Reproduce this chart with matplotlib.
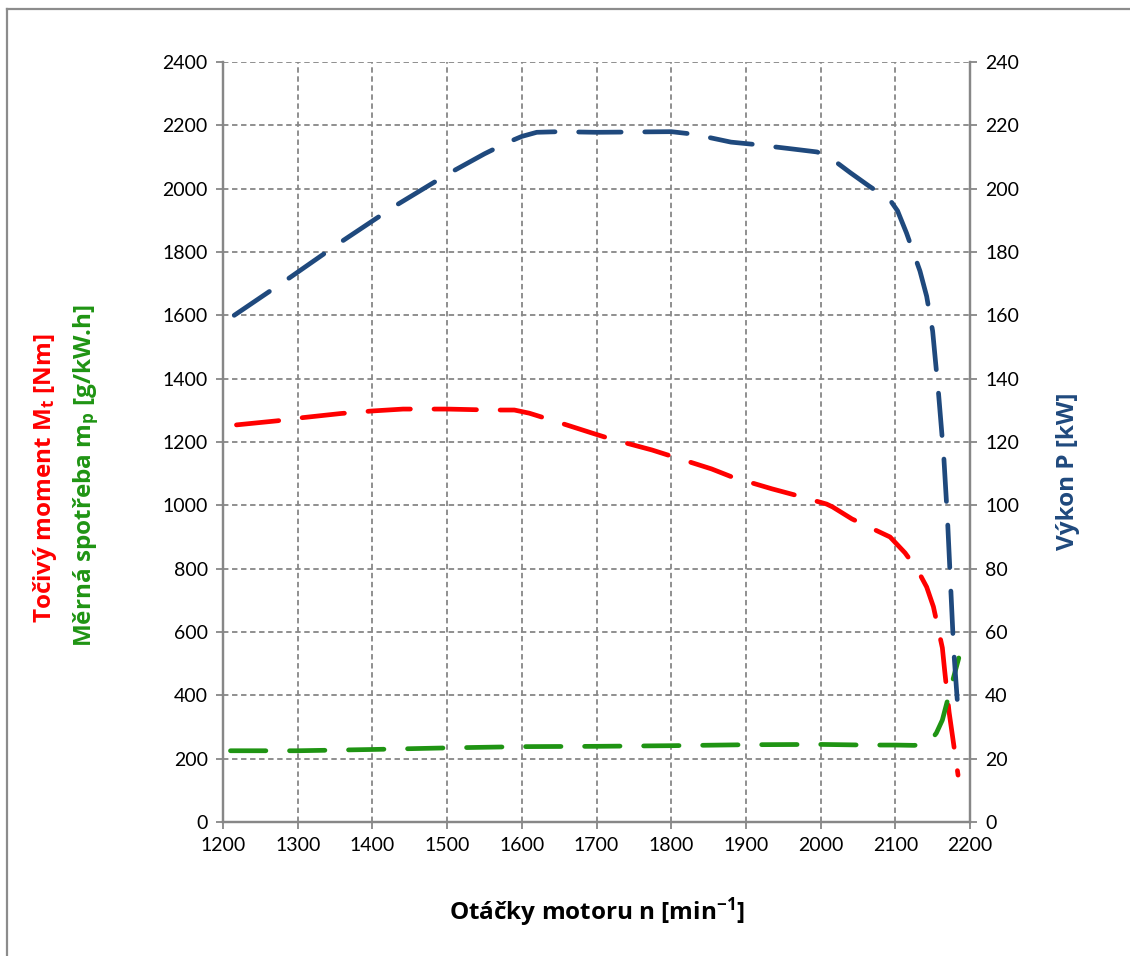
import matplotlib
matplotlib.use("Agg")
import matplotlib.pyplot as plt
from matplotlib.lines import Line2D

plt.rcParams['font.family'] = ['Lato', 'DejaVu Sans']
plt.rcParams['mathtext.fontset'] = 'custom'
plt.rcParams['mathtext.rm'] = 'Open Sans:bold'
plt.rcParams['mathtext.it'] = 'Open Sans:bold'
plt.rcParams['mathtext.bf'] = 'Open Sans:bold'

# Vykon P [kW] (right axis)
n_power = [1215, 1290, 1360, 1430, 1500, 1550, 1580, 1600, 1620, 1650, 1700, 1800,
           1830, 1880, 1910, 1960, 1995, 2010, 2040, 2065, 2093, 2103, 2115, 2133,
           2142, 2150, 2158, 2165, 2170, 2174, 2178, 2184]
power = [160, 172, 183.5, 194.5, 204.5, 211, 214.5, 216.5, 217.8, 218, 217.8, 218,
         217.2, 214.7, 214, 212.6, 211.6, 210.3, 205, 200.8, 196.4, 193, 186, 174,
         166, 155, 135, 115, 95, 75, 55, 35]

# Tocivy moment Mt [Nm]
n_torque = [1218, 1273, 1303, 1358, 1400, 1441, 1500, 1557, 1590, 1610, 1640, 1693,
            1720, 1774, 1802, 1854, 1882, 1935, 1965, 2008, 2016, 2042, 2093, 2113,
            2130, 2142, 2151, 2163, 2166, 2172, 2176, 2184]
torque = [1254, 1267, 1276, 1290, 1298, 1304, 1304, 1301, 1301, 1291, 1269, 1229,
          1209, 1175, 1154, 1115, 1089, 1052, 1033, 1004, 995, 957, 900, 850,
          795, 742, 680, 550, 480, 347, 281, 148]

# Merna spotreba mp [g/kW.h]
n_fuel = [1210, 1300, 1400, 1500, 1600, 1700, 1800, 1900, 2000, 2060, 2100, 2125,
          2135, 2142, 2150, 2155, 2163, 2170, 2177, 2185]
fuel = [225, 225, 229, 234, 238, 239, 241, 244, 245, 243, 243, 242,
        244, 249, 265, 281, 322, 385, 448, 518]

x_ticks = list(range(1200, 2201, 100))
left_ticks = list(range(0, 2401, 200))
right_ticks = list(range(0, 241, 20))

red = '#FF0000'
green = '#1F9413'
blue = '#1F497D'
grid_c = '#878787'
label_font = ['Open Sans', 'DejaVu Sans']
label_size = 17.5

fig = plt.figure(figsize=(11.3, 9.56), dpi=100)
ax = fig.add_axes([223 / 1130, 1 - 822 / 956, 747 / 1130, 760 / 956])
ax2 = ax.twinx()

lw = 3.4
ax.plot(n_torque, torque, color=red, lw=lw, dashes=(9, 5), dash_capstyle='round',
        zorder=3)
ax.plot(n_fuel, fuel, color=green, lw=lw, dashes=(7.5, 5), dash_capstyle='round',
        zorder=4)
ax2.plot(n_power, power, color=blue, lw=lw, dashes=(9, 5), dash_capstyle='round',
         zorder=3)

ax.set_xlim(1200, 2200)
ax.set_ylim(0, 2400)
ax2.set_ylim(0, 240)
ax.set_xticks(x_ticks)
ax.set_yticks(left_ticks)
ax2.set_yticks(right_ticks)

ax.grid(True, color=grid_c, linestyle=(0, (3, 2)), linewidth=1.3)
ax.set_axisbelow(True)

for a in (ax, ax2):
    a.spines['top'].set_visible(False)
    for s in ('left', 'right', 'bottom'):
        a.spines[s].set_color(grid_c)
        a.spines[s].set_linewidth(1.6)
    a.tick_params(labelsize=14, colors='black', length=5, width=1.3,
                  color=grid_c, pad=6)

ax.set_xlabel('Otáčky motoru n [min$^{-1}$]', fontsize=label_size, fontweight='bold',
              family=label_font, labelpad=30)

fig.text(45 / 1130, 1 - 478 / 956, 'Točivý moment M$_{t}$ [Nm]', color=red,
         rotation=90, ha='center', va='center', fontsize=label_size,
         fontweight='bold', family=label_font)
fig.text(86 / 1130, 1 - 476 / 956, 'Měrná spotřeba m$_{p}$ [g/kW.h]', color=green,
         rotation=90, ha='center', va='center', fontsize=label_size,
         fontweight='bold', family=label_font)
fig.text(1068 / 1130, 1 - 471 / 956, 'Výkon P [kW]', color=blue,
         rotation=90, ha='center', va='center', fontsize=label_size,
         fontweight='bold', family=label_font)

# outer chart border
fig.add_artist(Line2D([7 / 1130, 7 / 1130], [0, 1 - 9 / 956], color='#8c8c8c',
                      lw=1.6, transform=fig.transFigure))
fig.add_artist(Line2D([7 / 1130, 1], [1 - 9 / 956, 1 - 9 / 956], color='#8c8c8c',
                      lw=1.6, transform=fig.transFigure))

fig.savefig('out.png', dpi=100)
